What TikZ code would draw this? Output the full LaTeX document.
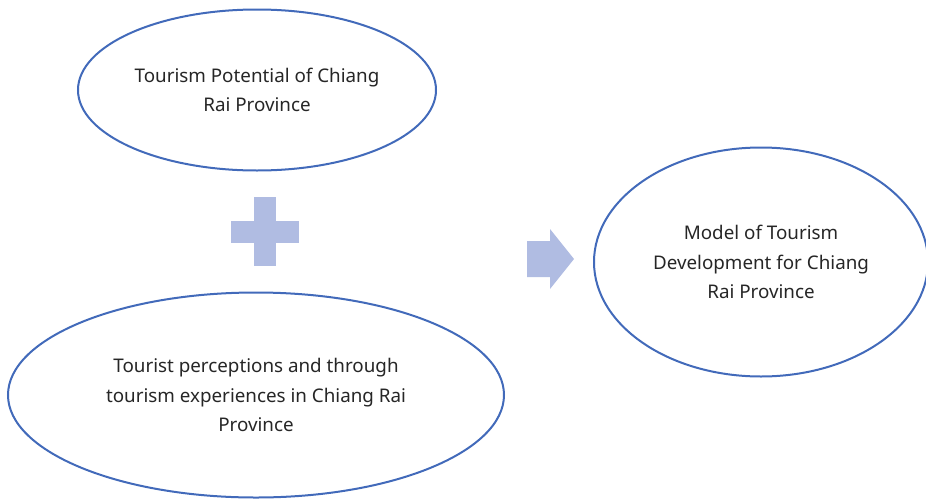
\documentclass[tikz,border=0pt]{standalone}
\usepackage{fontspec}
\setmainfont{Noto Sans}
\usepackage{xcolor}
\usetikzlibrary{shapes}
\definecolor{ringblue}{RGB}{66,106,186}
\definecolor{signblue}{RGB}{176,188,226}
\tikzstyle{bubble} = [ellipse, draw=ringblue, line width=2pt, inner sep=0pt, align=center, text=black!85, font=\fontsize{18.8}{29.8}\selectfont]
\tikzstyle{sign} = [fill=signblue, draw=none]

\begin{document}
\begin{tikzpicture}[x=1pt, y=-1pt]
    \useasboundingbox (0,0) rectangle (926,498);
    \node [bubble, minimum width=358pt, minimum height=161pt] (potential) at (257,90) {Tourism Potential of Chiang\\Rai Province};
    \node [bubble, minimum width=496pt, minimum height=205pt] (perception) at (256,395) {Tourist perceptions and through\\tourism experiences in Chiang Rai\\Province};
    \node [bubble, minimum width=334pt, minimum height=229pt] (model) at (761,262) {Model of Tourism\\Development for Chiang\\Rai Province};

    % plus sign
    \path [sign] (231,221) rectangle (299,243);
    \path [sign] (254,197) rectangle (276,266);
    % block arrow
    \path [sign] (527,241) -- (550,241) -- (550,229) -- (574,259) -- (550,289) -- (550,277) -- (527,277) -- cycle;
\end{tikzpicture}
\end{document}
